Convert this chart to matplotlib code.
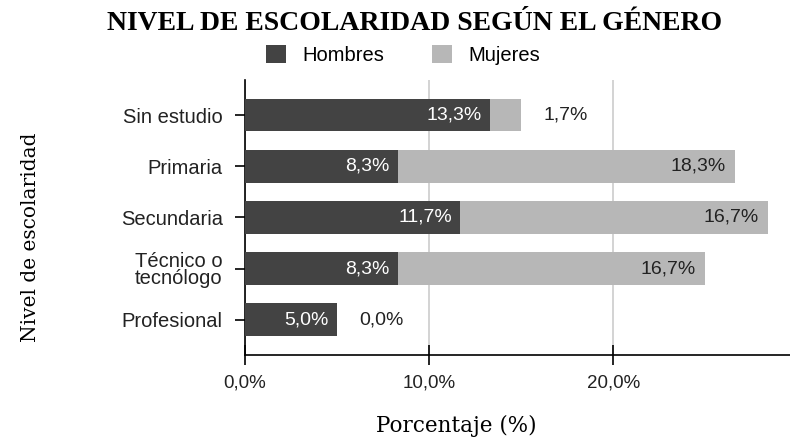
import matplotlib.pyplot as plt

# data
categories = ['Sin estudio', 'Primaria', 'Secundaria', 'Técnico o\ntecnólogo', 'Profesional']
hombres = [13.3, 8.3, 11.7, 8.3, 5.0]
mujeres = [1.7, 18.3, 16.7, 16.7, 0.0]
xticks = [0, 10, 20]
xtick_labels = ['0,0%', '10,0%', '20,0%']

dark = '#434343'
light = '#b7b7b7'
sans = 'Liberation Sans'
serif = 'DejaVu Serif'

fig = plt.figure(figsize=(7.9, 4.41), dpi=100)
ax = fig.add_axes([0.310, 0.195, 0.690, 0.624])

y = list(range(len(categories)))
ax.barh(y, hombres, height=0.64, color=dark, label='Hombres', zorder=3)
ax.barh(y, mujeres, left=hombres, height=0.64, color=light, label='Mujeres', zorder=3)

# value labels
for i, (h, m) in enumerate(zip(hombres, mujeres)):
    ax.text(h - 0.45, i, f'{h:.1f}%'.replace('.', ','), ha='right', va='center',
            color='white', fontsize=14, family=sans, zorder=4)
    if m >= 3:
        ax.text(h + m - 0.5, i, f'{m:.1f}%'.replace('.', ','), ha='right', va='center',
                color='#222222', fontsize=14, family=sans, zorder=4)
    else:
        ax.text(h + m + 1.2, i, f'{m:.1f}%'.replace('.', ','), ha='left', va='center',
                color='#222222', fontsize=14, family=sans, zorder=4)

ax.set_xlim(0, 29.6)
ax.set_ylim(len(categories) - 1 + 0.69, -0.69)
ax.set_yticks(y)
ax.set_yticklabels(categories, family=sans, fontsize=14.5, color='#222222', linespacing=0.88)
ax.set_xticks(xticks)
ax.set_xticklabels(xtick_labels, family=sans, fontsize=13.5, color='#222222')
ax.tick_params(axis='y', direction='inout', length=15, width=1.2, pad=8.5)
ax.tick_params(axis='x', direction='inout', length=14, width=1.2, pad=7)
ax.grid(axis='x', color='#cccccc', linewidth=1.2, zorder=0)
for s in ['top', 'right']:
    ax.spines[s].set_visible(False)
for s in ['left', 'bottom']:
    ax.spines[s].set_linewidth(1.2)
    ax.spines[s].set_color('black')

fig.text(0.525, 0.947, 'NIVEL DE ESCOLARIDAD SEGÚN EL GÉNERO', ha='center', va='center',
         family='Liberation Serif', fontweight='bold', fontsize=20)
fig.legend(loc='center', bbox_to_anchor=(0.51, 0.876), ncol=2, frameon=False,
           prop={'family': sans, 'size': 14.5}, handlelength=1.0, handleheight=1.0,
           columnspacing=2.4, handletextpad=0.8)
fig.text(0.577, 0.033, 'Porcentaje (%)', ha='center', va='center', family=serif, fontsize=15.5)
fig.text(0.038, 0.463, 'Nivel de escolaridad', ha='center', va='center', rotation=90,
         family=serif, fontsize=14.5)

fig.savefig('out.png', dpi=100)
